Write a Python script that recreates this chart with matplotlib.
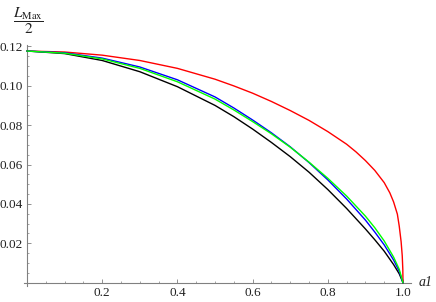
import numpy as np
import matplotlib
matplotlib.use("Agg")
import matplotlib.pyplot as plt
from matplotlib.ticker import FixedLocator, FuncFormatter

plt.rcParams['font.family'] = ['Liberation Serif', 'DejaVu Serif']
plt.rcParams['mathtext.fontset'] = 'stix'

# ---- data ----
a_grid = [0.0, 0.1, 0.2, 0.3, 0.4, 0.5, 0.55, 0.6, 0.65, 0.7, 0.75, 0.8, 0.85, 0.9,
          0.925, 0.95, 0.975, 0.99, 1.0]
black = [0.1176, 0.1163, 0.1128, 0.1071, 0.0995, 0.0900, 0.0843, 0.0780, 0.0712, 0.0640,
         0.0561, 0.0473, 0.0377, 0.0273, 0.0218, 0.0160, 0.0092, 0.0045, 0.0]
blue = [0.1176, 0.1167, 0.1140, 0.1095, 0.1030, 0.0943, 0.0887, 0.0826, 0.0761, 0.0690,
        0.0610, 0.0522, 0.0425, 0.0318, 0.0257, 0.0192, 0.0115, 0.0058, 0.0]
green = [0.1176, 0.1165, 0.1136, 0.1088, 0.1020, 0.0932, 0.0877, 0.0818, 0.0756, 0.0688,
         0.0612, 0.0530, 0.0440, 0.0338, 0.0279, 0.0212, 0.0130, 0.0068, 0.0]

a_red = [0.0, 0.1, 0.2, 0.3, 0.4, 0.5, 0.55, 0.6, 0.65, 0.7, 0.75, 0.8, 0.85, 0.875,
         0.9, 0.925, 0.95, 0.965, 0.975, 0.985, 0.99, 0.995, 0.998, 0.9995, 1.0]
red = [0.1176, 0.1171, 0.1155, 0.1128, 0.1088, 0.1033, 0.0999, 0.0962, 0.0920, 0.0874,
       0.0824, 0.0767, 0.0703, 0.0664, 0.0620, 0.0570, 0.0508, 0.0456, 0.0410, 0.0348,
       0.0287, 0.0208, 0.0136, 0.0068, 0.0]

x_major = [0.2, 0.4, 0.6, 0.8, 1.0]
y_major = [0.02, 0.04, 0.06, 0.08, 0.10, 0.12]
x_minor = [0.05, 0.1, 0.15, 0.25, 0.3, 0.35, 0.45, 0.5, 0.55, 0.65, 0.7, 0.75, 0.85, 0.9, 0.95]
y_minor = [0.005, 0.01, 0.015, 0.025, 0.03, 0.035, 0.045, 0.05, 0.055, 0.065, 0.07, 0.075,
           0.085, 0.09, 0.095, 0.105, 0.11, 0.115]

W, H = 436, 302
fig = plt.figure(figsize=(W / 100, H / 100), dpi=100)

# pixel mapping: x=0 -> 27px, x=1 -> 403px ; y=0 -> 282.7px, scale 1970 px/unit
xlo, xhi = -0.008, 1.02
ylo, yhi = -0.0015, 0.1205
left_px = 27 + xlo * 376
right_px = 27 + xhi * 376
bot_px = 282.7 - ylo * 1970
top_px = 282.7 - yhi * 1970
ax = fig.add_axes([left_px / W, (H - bot_px) / H, (right_px - left_px) / W, (bot_px - top_px) / H])
ax.set_xlim(xlo, xhi)
ax.set_ylim(ylo, yhi)

lw = 1.0
ax.plot(a_grid, black, color='black', lw=lw, zorder=3)
ax.plot(a_red, red, color='#ff0000', lw=lw, zorder=3)
ax.plot(a_grid, blue, color='#0000ff', lw=lw, zorder=4)
ax.plot(a_grid, green, color='#00ff00', lw=lw, zorder=5)

axis_col = '#808080'
for s in ['top', 'right']:
    ax.spines[s].set_visible(False)
ax.spines['left'].set_position(('data', 0))
ax.spines['bottom'].set_position(('data', 0))
for s in ['left', 'bottom']:
    ax.spines[s].set_color(axis_col)
    ax.spines[s].set_linewidth(0.8)

ax.xaxis.set_major_locator(FixedLocator(x_major))
ax.xaxis.set_minor_locator(FixedLocator(x_minor))
ax.yaxis.set_major_locator(FixedLocator(y_major))
ax.yaxis.set_minor_locator(FixedLocator(y_minor))
ax.xaxis.set_major_formatter(FuncFormatter(lambda v, p: f"{v:.1f}"))
ax.yaxis.set_major_formatter(FuncFormatter(lambda v, p: f"{v:.2f}"))

ax.tick_params(axis='both', which='major', direction='in', length=3.0, width=0.6,
               color=axis_col, labelsize=9.5, labelcolor='#222222')
ax.tick_params(axis='both', which='minor', direction='in', length=1.6, width=0.5,
               color=axis_col)
ax.tick_params(axis='x', which='major', pad=3)
ax.tick_params(axis='y', which='major', pad=3)
ax.patch.set_alpha(0)

fig.text(419 / W, (H - 283) / H, "a1", fontsize=10, style='italic', ha='left', va='center',
         color='#222222')
fig.text(28 / W, (H - 21) / H, r"$\dfrac{L_{\mathrm{Max}}}{2}$", fontsize=11, ha='center',
         va='center', color='#222222')

fig.savefig("out.png", dpi=100)
